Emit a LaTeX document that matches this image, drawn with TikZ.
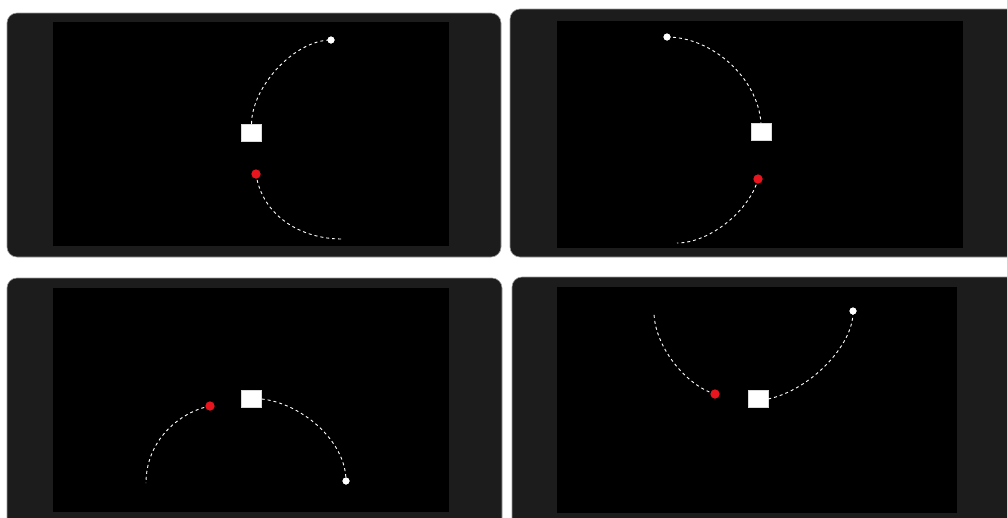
\documentclass[tikz,border=0pt]{standalone}
\definecolor{framegray}{HTML}{1C1C1C}
\definecolor{edgegray}{HTML}{9A9A9A}
\definecolor{dotred}{HTML}{E8141E}
\tikzset{
  frame/.style={fill=framegray, draw=edgegray, line width=0.6pt, rounded corners=10pt},
  screen/.style={fill=black},
  sq/.style={rectangle, fill=white, draw=white!85!black, line width=0.4pt, minimum width=20pt, minimum height=17pt, inner sep=0pt},
  wdot/.style={circle, fill=white, minimum size=7pt, inner sep=0pt},
  rdot/.style={circle, fill=dotred, minimum size=9pt, inner sep=0pt},
  trail/.style={draw=white, line width=0.9pt, dash pattern=on 3pt off 3pt}
}
\begin{document}
\begin{tikzpicture}[x=1pt,y=-1pt]
\clip (0,0) rectangle (1007,517);
\fill[white] (0,0) rectangle (1007,517);
% frames
\draw[frame] (7,13) rectangle (501,257);
\draw[frame] (510,9) rectangle (1020,257);
\draw[frame] (7,278) rectangle (502,530);
\draw[frame] (512,277) rectangle (1020,530);
% screens
\fill[screen] (53,22) rectangle (449,246);
\fill[screen] (557,21) rectangle (963,248);
\fill[screen] (53,288) rectangle (449,512);
\fill[screen] (557,287) rectangle (957,513);

% panel 1
\node[sq] (s1) at (251.5,132.5) {};
\node[wdot] (w1) at (331,40) {};
\node[rdot] (r1) at (256,174) {};
\coordinate (e1) at (342,239);
\draw[trail] (s1.north) .. controls (252,86) and (295,40) .. (w1.center);
\draw[trail] (r1.center) .. controls (262,215) and (300,239) .. (e1);
\node[wdot] at (w1) {};
\node[rdot] at (r1) {};

% panel 2
\node[sq] (s2) at (761,132) {};
\node[wdot] (w2) at (667,37) {};
\node[rdot] (r2) at (758,179) {};
\coordinate (e2) at (677,243);
\draw[trail] (w2.center) .. controls (712,37) and (758,78) .. (s2.north);
\draw[trail] (r2.center) .. controls (750,210) and (710,243) .. (e2);
\node[wdot] at (w2) {};
\node[rdot] at (r2) {};

% panel 3
\node[sq] (s3) at (251.5,399) {};
\node[wdot] (w3) at (346,481) {};
\node[rdot] (r3) at (210,406) {};
\coordinate (e3) at (146,483);
\draw[trail] (s3.east) .. controls (300,403) and (346,440) .. (w3.center);
\draw[trail] (r3.center) .. controls (180,412) and (146,440) .. (e3);
\node[wdot] at (w3) {};
\node[rdot] at (r3) {};

% panel 4
\node[sq] (s4) at (758,399) {};
\node[wdot] (w4) at (853,311) {};
\node[rdot] (r4) at (715,394) {};
\coordinate (e4) at (654,312);
\draw[trail] (s4.east) .. controls (810,390) and (854,345) .. (w4.center);
\draw[trail] (r4.center) .. controls (685,385) and (654,345) .. (e4);
\node[wdot] at (w4) {};
\node[rdot] at (r4) {};
\end{tikzpicture}
\end{document}
